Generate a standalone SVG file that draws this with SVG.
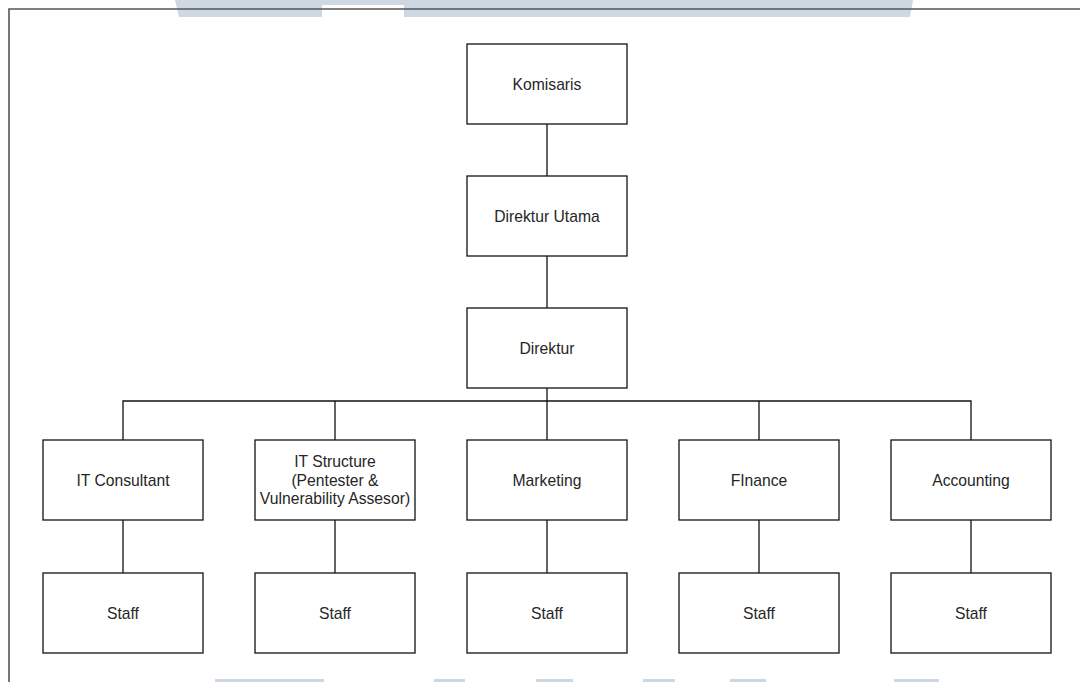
<svg xmlns="http://www.w3.org/2000/svg" width="1080" height="682" viewBox="0 0 1080 682">
<style>
.box{fill:#fff;stroke:#111;stroke-width:1.3}
.lbl{font-family:"Liberation Sans",Arial,sans-serif;font-size:15.7px;fill:#262626;text-anchor:middle}
.conn{fill:none;stroke:#111;stroke-width:1.3}
.wm{fill:#cdd8e2}
.frame{fill:none;stroke:#555;stroke-width:1.6}
</style>
<rect width="1080" height="682" fill="#fff"/>
<g id="watermark">
<polygon class="wm" points="175,0 913,0 910,17 404,17 404,5 322,5 322,17 179,17"/>
<rect class="wm" x="215" y="679" width="109" height="3"/>
<rect class="wm" x="434" y="679" width="31" height="3"/>
<rect class="wm" x="536" y="679" width="37" height="3"/>
<rect class="wm" x="643" y="679" width="32" height="3"/>
<rect class="wm" x="730" y="679" width="36" height="3"/>
<rect class="wm" x="894" y="679" width="45" height="3"/>
</g>
<path class="frame" d="M9,682 V9 H1080"/>
<g id="connectors">
<path class="conn" d="M547,124 V176"/>
<path class="conn" d="M547,256 V308"/>
<path class="conn" d="M547,388 V440"/>
<path class="conn" d="M123,440 V401 H971 V440"/>
<path class="conn" d="M335,401 V440"/>
<path class="conn" d="M759,401 V440"/>
<path class="conn" d="M123,520 V573"/>
<path class="conn" d="M335,520 V573"/>
<path class="conn" d="M547,520 V573"/>
<path class="conn" d="M759,520 V573"/>
<path class="conn" d="M971,520 V573"/>
</g>
<g id="komisaris"><rect class="box" x="467" y="44" width="160" height="80"/><text class="lbl" x="547" y="89.5">Komisaris</text></g>
<g id="direktur-utama"><rect class="box" x="467" y="176" width="160" height="80"/><text class="lbl" x="547" y="221.5">Direktur Utama</text></g>
<g id="direktur"><rect class="box" x="467" y="308" width="160" height="80"/><text class="lbl" x="547" y="353.5">Direktur</text></g>
<g id="it-consultant"><rect class="box" x="43" y="440" width="160" height="80"/><text class="lbl" x="123" y="485.5">IT Consultant</text></g>
<g id="it-structure"><rect class="box" x="255" y="440" width="160" height="80"/><text class="lbl" x="335" y="467">IT Structure</text><text class="lbl" x="335" y="485.5">(Pentester &amp;</text><text class="lbl" x="335" y="504">Vulnerability Assesor)</text></g>
<g id="marketing"><rect class="box" x="467" y="440" width="160" height="80"/><text class="lbl" x="547" y="485.5">Marketing</text></g>
<g id="finance"><rect class="box" x="679" y="440" width="160" height="80"/><text class="lbl" x="759" y="485.5">FInance</text></g>
<g id="accounting"><rect class="box" x="891" y="440" width="160" height="80"/><text class="lbl" x="971" y="485.5">Accounting</text></g>
<g id="staff-1"><rect class="box" x="43" y="573" width="160" height="80"/><text class="lbl" x="123" y="618.5">Staff</text></g>
<g id="staff-2"><rect class="box" x="255" y="573" width="160" height="80"/><text class="lbl" x="335" y="618.5">Staff</text></g>
<g id="staff-3"><rect class="box" x="467" y="573" width="160" height="80"/><text class="lbl" x="547" y="618.5">Staff</text></g>
<g id="staff-4"><rect class="box" x="679" y="573" width="160" height="80"/><text class="lbl" x="759" y="618.5">Staff</text></g>
<g id="staff-5"><rect class="box" x="891" y="573" width="160" height="80"/><text class="lbl" x="971" y="618.5">Staff</text></g>
</svg>
